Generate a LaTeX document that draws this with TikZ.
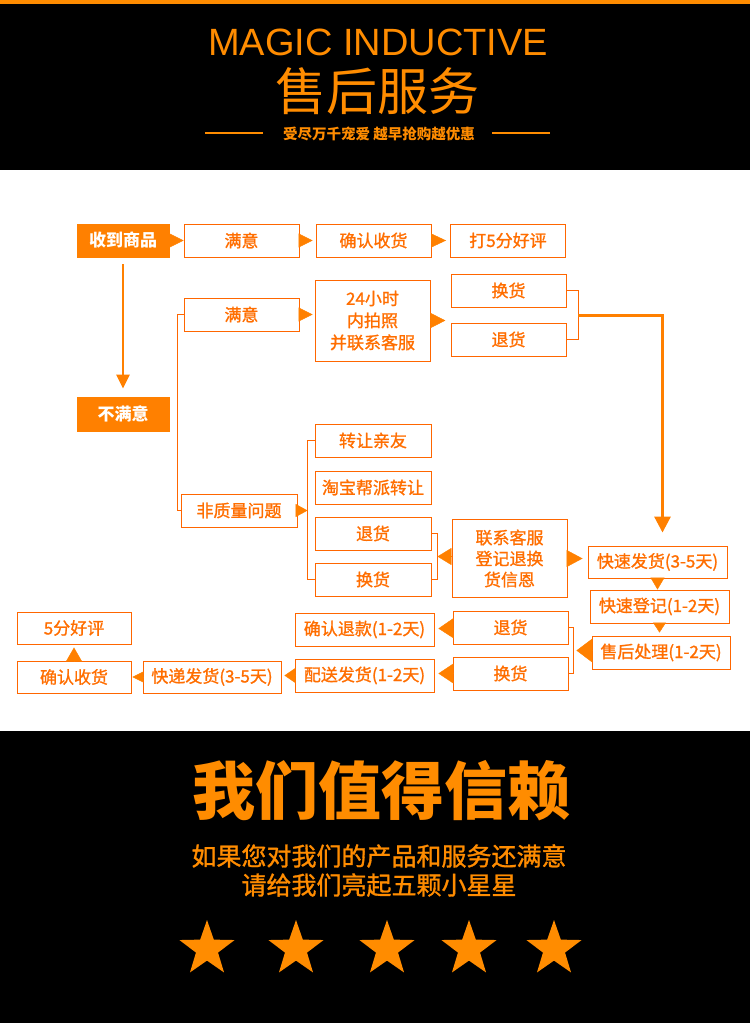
\documentclass[tikz,border=0pt]{standalone}
\usepackage{fontspec}
\setmainfont{Noto Sans CJK SC}
\newfontfamily\latinfont{Liberation Sans}
\newfontfamily\heavyfont[FakeBold=1.2]{Noto Sans CJK SC}
\usepackage{tikz}
\usetikzlibrary{positioning,arrows.meta,calc,shapes.geometric}
\definecolor{mango}{RGB}{255,140,0}
\definecolor{flowline}{RGB}{255,102,0}
\definecolor{flowtext}{RGB}{255,110,0}
\definecolor{flowfill}{RGB}{255,128,0}
\tikzset{
  stepbox/.style={draw=flowline, line width=0.9pt, fill=white, minimum width=115pt,
                  minimum height=33pt, inner sep=0pt, text=flowtext, align=center,
                  font=\heavyfont\fontsize{17}{22}\selectfont},
  widebox/.style={stepbox, minimum width=139pt},
  keybox/.style={stepbox, draw=flowfill, fill=flowfill, text=white, minimum width=92pt,
                 font=\fontsize{17}{22}\selectfont\bfseries},
  tri/.style 2 args={-{Triangle[length=#1pt,width=#2pt]}, flowfill, line width=0.4pt},
  link/.style={draw=flowline, line width=0.9pt},
  bigarrow/.style={-{Triangle[length=16pt,width=16pt]}, flowfill, line width=3pt},
  starnode/.style={star, star points=5, star point ratio=2.5, fill=mango,
                   minimum size=58pt, inner sep=0pt}
}

\begin{document}
\begin{tikzpicture}[x=1pt, y=-1pt]
  \useasboundingbox (0,0) rectangle (750,1023);
  \fill[mango] (0,0) rectangle (750,4);
  \fill[black] (0,4) rectangle (750,170);
  \fill[black] (0,731) rectangle (750,1023);

  % header
  \node[text=mango, anchor=base, inner sep=0pt, font=\latinfont\fontsize{38}{38}\selectfont] (magic) at (378,55) {MAGIC INDUCTIVE};
  \node[text=mango, inner sep=0pt, font=\fontsize{51}{51}\selectfont] (title) at (377,91) {售后服务};
  \node[text=mango, inner sep=0pt, font=\fontsize{14.5}{15}\selectfont\bfseries] (slogan) at (379,134) {受尽万千宠爱 越早抢购越优惠};
  \draw[mango, line width=1.5pt] (205,133) -- (263,133);
  \draw[mango, line width=1.5pt] (492,133) -- (550,133);

  % flow
  \node[keybox] (get) at (123,240.5) {收到商品};
  \node[stepbox] (sat1) at (241.5,240.5) {满意};
  \node[stepbox] (conf1) at (373.5,240.5) {确认收货};
  \node[stepbox] (five1) at (508,240.5) {打5分好评};

  \node[stepbox] (sat2) at (241.5,314.5) {满意};
  \node[stepbox, minimum height=81pt] (p24) at (372.5,320.5) {24小时\\内拍照\\并联系客服};
  \node[stepbox] (exc0) at (508.5,290.5) {换货};
  \node[stepbox] (ret0) at (508.5,339.5) {退货};

  \node[keybox, minimum height=34pt] (notsat) at (123,414) {不满意};
  \node[stepbox, minimum width=116pt] (noq) at (239,510.5) {非质量问题};
  \node[stepbox, minimum width=116pt] (tr1) at (373,440.5) {转让亲友};
  \node[stepbox, minimum width=116pt] (tb) at (373,487.5) {淘宝帮派转让};
  \node[stepbox, minimum width=116pt] (ret1) at (373,533.5) {退货};
  \node[stepbox, minimum width=116pt] (exc1) at (373,579.5) {换货};
  \node[stepbox, minimum height=78pt, font=\heavyfont\fontsize{17}{21}\selectfont] (contact) at (509.5,558.5) {联系客服\\登记退换\\货信恩};

  \node[widebox, minimum height=32pt] (fast1) at (657.5,562) {快速发货(3-5天)};
  \node[widebox] (reg) at (659.5,606.5) {快速登记(1-2天)};
  \node[widebox, minimum width=138pt] (proc) at (661,652.5) {售后处理(1-2天)};
  \node[stepbox] (ret2) at (510.5,627.5) {退货};
  \node[stepbox] (exc2) at (510.5,673.5) {换货};
  \node[widebox] (refund) at (364.5,629.5) {确认退款(1-2天)};
  \node[widebox] (ship) at (364.5,675.5) {配送发货(1-2天)};
  \node[widebox, minimum width=138pt, minimum height=32pt] (exp) at (212,677) {快递发货(3-5天)};
  \node[stepbox, minimum width=114pt, minimum height=32pt] (conf2) at (74,677) {确认收货};
  \node[stepbox, minimum width=114pt, minimum height=32pt] (good5) at (74,628) {5分好评};

  \coordinate (pick) at ($(p24.east)+(15,0)$);
  \coordinate (swap) at ($(exc0.east)!.5!(ret0.east)+(12,0)$);
  \coordinate (back1) at ($(ret1.east)!.5!(exc1.east)+(6,0)$);
  \coordinate (back2) at ($(ret2.east)!.5!(exc2.east)+(5,0)$);

  \draw[link] (sat2.west) -- ++(-6,0) |- (noq.west);
  \draw[link] (tr1.west) -- ++(-7,0) |- (exc1.west);
  \draw[link] (exc0.east) -- ++(12,0) |- (ret0.east);
  \draw[link] (ret1.east) -- ++(6,0) |- (exc1.east);
  \draw[link] (ret2.east) -- ++(5,0) |- (exc2.east);

  \draw[tri={14}{14}] (get) -- (sat1);
  \draw[tri={14}{14}, shorten >=3pt] (sat1) -- (conf1);
  \draw[tri={15}{14}, shorten >=4pt] (conf1) -- (five1);
  \draw[tri={14}{14}, shorten >=2pt] (sat2.east) -- (p24.west |- sat2.east);
  \draw[tri={15}{15}] (p24) -- (pick);
  \draw[tri={12}{13}, shorten >=7pt] (noq.east) -- (noq.east -| tr1.west);
  \draw[tri={14}{17}] (contact.west |- back1) -- (back1);
  \draw[tri={16}{17}, shorten >=5pt] (contact.east) -- (contact.east -| fast1.west);
  \draw[tri={12}{14}] (fast1.south) -- (fast1.south |- reg.north);
  \draw[tri={10}{13}, shorten >=3pt] (reg.south) -- (reg.south |- proc.north);
  \draw[tri={16}{24}, shorten >=3pt] (proc.west |- back2) -- (back2);
  \draw[tri={15}{20}, shorten >=4pt] (ret2) -- (refund);
  \draw[tri={15}{20}, shorten >=4pt] (exc2.west) -- (exc2.west -| ship.east);
  \draw[tri={11}{15}, shorten >=3pt] (ship.west) -- (ship.west -| exp.east);
  \draw[tri={11}{11}, shorten >=1pt] (exp) -- (conf2);
  \draw[tri={14}{16}, shorten >=3pt] (conf2) -- (good5);

  \draw[-{Triangle[length=14pt,width=13pt]}, flowfill, line width=2.5pt, shorten <=7pt, shorten >=8pt] (get) -- (notsat);
  \draw[bigarrow] (swap) -| ([xshift=5pt,yshift=13pt]fast1.north);

  % footer
  \node[text=mango, inner sep=0pt, font=\fontsize{63}{63}\selectfont\bfseries] (trust) at (381,791) {我们值得信赖};
  \node[text=mango, inner sep=0pt, align=center, font=\heavyfont\fontsize{25}{29}\selectfont] (plea) at (379,870.5) {如果您对我们的产品和服务还满意\\请给我们亮起五颗小星星};
  \foreach \sx [count=\i] in {207,296,387,469,554}
    \node[starnode] (star\i) at (\sx,949) {};
\end{tikzpicture}
\end{document}
